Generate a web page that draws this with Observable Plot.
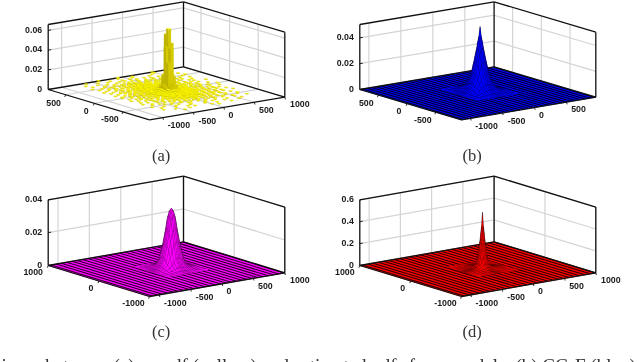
<!DOCTYPE html>
<html><head><meta charset="utf-8">
<script src="https://cdn.jsdelivr.net/npm/d3@7"></script>
<script src="https://cdn.jsdelivr.net/npm/@observablehq/plot@0.6"></script>
<style>html,body{margin:0;padding:0;background:#fff;overflow:hidden}svg{display:block;filter:blur(.35px)}</style>
</head><body>
<script>
// ---- data (z values in units of 0.001) ----
const peakNodesA = [0,20,40,70,100,140,190,250];
const surfaceB = [
 [50,42,34,24,15,7,3.5,1.5],
 [42,38,32,23,14.5,7,3.5,1.5],
 [34,32,28,21,13,6.5,3.3,1.4],
 [24,23,21,15,10,5.5,3,1.3],
 [15,14.5,13,10,7,4.5,2.5,1],
 [7,7,6.5,5.5,4.5,3.2,1.8,.7],
 [3.5,3.5,3.3,3,2.5,1.8,1,.4],
 [1.5,1.5,1.4,1.3,1,.7,.4,.2]];
const surfaceC = [
 [36.6,35.5,32.6,25,17,7.5,2.4,.8],
 [35.5,34.5,31.7,24,16.3,7.5,2.4,.8],
 [32.6,31.7,28.8,21.8,14.8,7,2.2,.8],
 [25,24,21.8,17,11.5,5.3,2,.7],
 [17,16.3,14.8,11.5,7.5,3.6,1.5,.6],
 [7.5,7.5,7,5.3,3.6,2,1,.4],
 [2.4,2.4,2.2,2,1.5,1,.6,.2],
 [.8,.8,.8,.7,.6,.4,.2,.1]];
const peakNodesD = [0,15,30,50,80,120,170,230];
const surfaceD = [
 [510,380,270,130,50,20,7,2],
 [380,320,240,120,48,20,7,2],
 [270,240,190,105,44,18,6,2],
 [130,120,105,75,35,15,6,2],
 [50,48,44,35,22,11,5,1.5],
 [20,20,18,15,11,7,3.5,1],
 [7,7,6,6,5,3.5,2,.8],
 [2,2,2,2,1.5,1,.8,.3]];
// histogram centre: rows j = 5..-5, columns i = -5..5 (bins of 40)
const histCentre = [
 [.3,.5,.4,.8,.6,.9,.7,.5,.6,.3,.4],
 [.5,.8,1,1.2,1.4,1.6,1.2,1,.8,.6,.3],
 [.6,1,1.6,2,2.6,3,2.4,1.8,1.2,.8,.5],
 [.8,1.2,2,3.5,5,7,5.5,3,2,1.2,.6],
 [.7,1.4,2.6,5,16,57,42,6,3,1.5,.7],
 [.9,1.6,3,7,45,63,48,9,3.5,1.8,.9],
 [.8,1.3,2.5,5,30,44,15,6,3,1.4,.8],
 [.6,1,2,3.5,6,8,6,3.5,2,1.1,.6],
 [.5,.9,1.4,2,2.8,3,2.6,2,1.5,.9,.5],
 [.4,.7,1,1.2,1.5,1.6,1.3,1.1,.9,.6,.4],
 [.3,.5,.7,.6,.8,1,.7,.6,.5,.4,.3]];
// histogram outskirts: rows j = 20..-20, columns i = -20..20; digit = height x 0.0005
const histCloud = [
 "..........1.......1.............1........",
 "....1............1.....1........1....1...",
 "........1....1........1.......1..........",
 "..1........1.....1..1.......1.......1....",
 "......1........1.1....1..1.......1.......",
 "...1.....1...1.....1.1.....1..1.......1..",
 ".......1...1...1.1...1..1..1.......1.....",
 ".1....1...1..1..1.1.1..1.1...1..1......1.",
 "....1...1..1.1.11.1.1.11..1.1....1...1...",
 "..1...1.1...1.1.1111.1.1.11.1.1....1.....",
 ".....1..1.1.1.11.111111.1.11..1..1....1..",
 "...1...1..1.11.1211121.11.1.1.1...1......",
 ".1....1.1..1.112112121111.11.1..1....1...",
 "....1...1.1.1112122122112.1.1.1....1.....",
 "..1...1..11.11212222212111.11.1.1...1....",
 ".....1.1.1.11211222222221211.1..1.1.....1",
 "...1..1.1.1.1212122222222121.11.1...1....",
 ".1.....1.11.11212222222221211.1.1.1......",
 "....1.1.1.11212122222222212111.1..1...1..",
 "..1..1.1.11.11212222222221211.1.1.1......",
 ".1...1.1.1.112112222222222121.11.1..1...1",
 "....1..1.11.12121222222221211.1.1...1....",
 "..1...1.1.11.1212222222221211.1.1.1....1.",
 "....1.1..1.1121122222222212111.1...1.....",
 ".1...1.1.1.11.1212222222121111.1.1.1.1...",
 "...1...1.1.1.121122222221211.1.1...1.....",
 ".....1.1..1.11.121222122111.11.1.1....1..",
 "..1....1.1.1.11211212212111.1.1..1.1.....",
 "....1..1..1.1.1.12112111211.1.11...1...1.",
 ".1.....1.1..1.11.1121211.11.1.1.1........",
 "....1....1.1.1.1.11.1111.1.1.1..1...1....",
 "...1..1.....1.1.1.1.11.1.1.1.1...1.......",
 ".......1..1...1.1..1.1.1..1..1..1....1...",
 ".1.......1...1...1..1...1.1...1.....1....",
 ".....1.....1...1...1..1...1..1...1.......",
 "...1.....1.....1.....1...1.......1....1..",
 "........1.....1.....1..1.....1...........",
 "..1.........1......1.......1......1......",
 "......1.......1........1........1........",
 "...........1........1.......1............",
 "........1.............1..................",
];
const xTicksFull = [-1000,-500,0,500,1000];
const xTicksShort = [-1000,-500,0,500];
const yTicksNear = [-500,0,500];
const yTicksWide = [-1000,0,1000];
const zTicksA = [0,.02,.04,.06];
const zTicksB = [0,.02,.04];
const zTicksC = [0,.02,.04];
const zTicksD = [0,.2,.4,.6];
const captionText = "Comparisons between (a) empdf (yellow) and estimated pdfs from models: (b) CG-F (blue),";

// ---- page layout of the four 3-D boxes ----
const panels = [
 {name:"(a)",labelAt:[160.7,155],F:[149,119.3],R:[284.3,96.7],L:[47.7,89],H:65,xd:[-1220,1000],yd:[-965,805],zm:.066,xt:xTicksFull,yt:yTicksNear,zt:zTicksA,color:"#ffff00"},
 {name:"(b)",labelAt:[471.7,155],F:[461,119.3],R:[595.3,96.7],L:[359.3,89],H:65,xd:[-1142,958],yd:[-948,822],zm:.0503,xt:xTicksShort,yt:yTicksNear,zt:zTicksB,color:"#0000ff",surf:surfaceB,nodes:peakNodesA,far:340,step:73},
 {name:"(c)",labelAt:[160.7,331],F:[149,296],R:[284.3,272.3],L:[47.7,265],H:65.7,xd:[-1156,1000],yd:[-1000,1000],zm:.04,xt:xTicksFull,yt:yTicksWide,zt:zTicksC,color:"#ff00ff",surf:surfaceC,nodes:peakNodesA,far:340,step:84},
 {name:"(d)",labelAt:[471.7,331],F:[461,296],R:[595.3,272.3],L:[359.3,265],H:65.7,xd:[-1150,1000],yd:[-1000,1000],zm:.6,xt:xTicksFull,yt:yTicksWide,zt:zTicksD,color:"#ff0000",surf:surfaceD,nodes:peakNodesD,far:320,step:84},
];
const xNudge = {"-1000":[16,8],"-500":[14,8.3],"0":[7,7.3],"500":[12,7.4],"1000":[15,7.4]};
const yNudge = {"-1000":[-16,6.3],"-500":[-13,7.7],"0":[-8,7.4],"500":[-12,8],"1000":[-15,6.7]};
const gridColor = "#d4d4d4", boxColor = "#111";

function projector(p){
  return (x,y,z=0)=>{
    const t=(x-p.xd[0])/(p.xd[1]-p.xd[0]), s=(y-p.yd[0])/(p.yd[1]-p.yd[0]);
    return [p.F[0]+t*(p.R[0]-p.F[0])+s*(p.L[0]-p.F[0]),
            p.F[1]+t*(p.R[1]-p.F[1])+s*(p.L[1]-p.F[1])-z/p.zm*p.H];
  };
}
let pid=0;
function poly(out,pts,fill,stroke){const id=pid++;for(const q of [...pts,pts[0]])out.push({x:q[0],y:q[1],id,fill,stroke});}
function seg(out,a,b){out.push({x1:a[0],y1:a[1],x2:b[0],y2:b[1]});}

const marks=[];
for(const p of panels){
  const P=projector(p),[x0,x1]=p.xd,[y0,y1]=p.yd,zm=p.zm;
  // walls and floor grid
  const grid=[];
  for(const t of p.xt){seg(grid,P(t,y1,0),P(t,y1,zm));seg(grid,P(t,y0,0),P(t,y1,0));}
  for(const t of p.yt){seg(grid,P(x1,t,0),P(x1,t,zm));seg(grid,P(x0,t,0),P(x1,t,0));}
  for(const t of p.zt.slice(1)){seg(grid,P(x0,y1,t),P(x1,y1,t));seg(grid,P(x1,y1,t),P(x1,y0,t));}
  marks.push(Plot.link(grid,{x1:"x1",y1:"y1",x2:"x2",y2:"y2",stroke:gridColor,strokeWidth:1.2}));
  // floor surface with its mesh stripes
  if(p.surf){
    const fl=[];poly(fl,[P(x0,y0),P(x1,y0),P(x1,y1),P(x0,y1)],p.color,p.color);
    marks.push(Plot.line(fl,{x:"x",y:"y",z:"id",fill:"fill",stroke:"stroke",strokeWidth:.5}));
    const st=[];
    for(const x of d3.range(x0+p.step/2,x1,p.step)) seg(st,P(x,y0),P(x,y1));
    marks.push(Plot.link(st,{x1:"x1",y1:"y1",x2:"x2",y2:"y2",stroke:"#000",strokeWidth:1.05,strokeOpacity:.85}));
  }
  // box
  const box=[];
  const c=[[x0,y1],[x1,y1],[x1,y0]];
  seg(box,P(x0,y1,zm),P(x1,y1,zm));seg(box,P(x1,y1,zm),P(x1,y0,zm));
  for(const q of c)seg(box,P(q[0],q[1],0),P(q[0],q[1],zm));
  seg(box,P(x0,y1),P(x1,y1));seg(box,P(x1,y1),P(x1,y0));seg(box,P(x0,y1),P(x0,y0));seg(box,P(x0,y0),P(x1,y0));
  marks.push(Plot.link(box,{x1:"x1",y1:"y1",x2:"x2",y2:"y2",stroke:boxColor,strokeWidth:1.3}));
  // ticks
  const tk=[];
  for(const t of p.xt){const a=P(t,y0);seg(tk,a,[a[0]+.6,a[1]+2.2]);}
  for(const t of p.yt){const a=P(x0,t);seg(tk,a,[a[0]-.9,a[1]+2.2]);}
  for(const t of p.zt){const a=P(x0,y1,t);seg(tk,a,[a[0]+3,a[1]-.5]);}
  marks.push(Plot.link(tk,{x1:"x1",y1:"y1",x2:"x2",y2:"y2",stroke:boxColor,strokeWidth:.9}));
  // data
  if(p.surf){
    const n=p.nodes,m=[...n.slice(1).reverse().map(v=>-v),...n];
    const off=[-p.far,...m,p.far];
    const val=(a,b)=>{const ia=n.indexOf(Math.abs(a)),ib=n.indexOf(Math.abs(b));return ia<0||ib<0?0:p.surf[ia][ib]/1000;};
    const cells=[];
    for(let i=0;i<off.length-1;i++)for(let j=0;j<off.length-1;j++)cells.push([i,j]);
    cells.sort((a,b)=>(b[0]+b[1])-(a[0]+a[1]));
    const sf=[];
    for(const [i,j] of cells){
      const A=off[i],B=off[i+1],C=off[j],D=off[j+1];
      poly(sf,[P(A,C,val(A,C)),P(B,C,val(B,C)),P(B,D,val(B,D)),P(A,D,val(A,D))],p.color,"#000");
    }
    marks.push(Plot.line(sf,{x:"x",y:"y",z:"id",fill:"fill",stroke:"stroke",strokeWidth:.3,strokeOpacity:.5}));
  } else {
    const bars=[];
    histCloud.forEach((row,r)=>{const j=20-r;[...row].forEach((ch,k)=>{const i=k-20;
      if(Math.abs(i)<=5&&Math.abs(j)<=5)return;
      if(ch!==".")bars.push([i,j,+ch*.0005,ch==="1"?15:19]);});});
    histCentre.forEach((row,r)=>row.forEach((v,k)=>bars.push([k-5,5-r,v/1000,20])));
    bars.sort((a,b)=>(b[0]+b[1])-(a[0]+a[1]));
    const bf=[];
    for(const [i,j,h,w] of bars){
      const X=i*40,Y=j*40,tall=h>.004;
      poly(bf,[P(X-w,Y-w,0),P(X-w,Y+w,0),P(X-w,Y+w,h),P(X-w,Y-w,h)],"#bdb300","#bdb300");
      poly(bf,[P(X-w,Y-w,0),P(X+w,Y-w,0),P(X+w,Y-w,h),P(X-w,Y-w,h)],"#d6cb00","#d6cb00");
      poly(bf,[P(X-w,Y-w,h),P(X+w,Y-w,h),P(X+w,Y+w,h),P(X-w,Y+w,h)],tall&&h<.06?"#d6cb00":"#ffff00",tall&&h<.06?"#d6cb00":"#f6f000");
    }
    marks.push(Plot.line(bf,{x:"x",y:"y",z:"id",fill:"fill",stroke:"stroke",strokeWidth:.25}));
  }
  // tick labels
  const lab=[];
  for(const t of p.xt){const a=P(t,y0),n=xNudge[t];lab.push({x:a[0]+n[0],y:a[1]+n[1],t:String(t)});}
  for(const t of p.yt){const a=P(x0,t),n=yNudge[t];lab.push({x:a[0]+n[0],y:a[1]+n[1],t:String(t)});}
  marks.push(Plot.text(lab,{x:"x",y:"y",text:"t",fontSize:8.8,fontWeight:700,fontFamily:"Liberation Sans",fill:"#1a1a1a"}));
  const zl=p.zt.map(t=>{const a=P(x0,y1,t);return {x:a[0]-6,y:a[1]-.5,t:String(t)};});
  marks.push(Plot.text(zl,{x:"x",y:"y",text:"t",textAnchor:"end",fontSize:8.8,fontWeight:700,fontFamily:"Liberation Sans",fill:"#1a1a1a"}));
  marks.push(Plot.text([p.name],{x:()=>p.labelAt[0],y:()=>p.labelAt[1],text:d=>d,fontSize:16.5,fontFamily:"Liberation Serif",fill:"#333"}));
}
marks.push(Plot.text([captionText],{x:()=>640,y:()=>365,text:d=>d,textAnchor:"end",fontSize:19,fontFamily:"Liberation Serif",fill:"#333"}));

const chart=Plot.plot({width:640,height:362,margin:0,
  x:{domain:[0,640],range:[0,640],axis:null},
  y:{domain:[0,362],range:[0,362],axis:null},
  color:{type:"identity"},
  style:{background:"#fff",overflow:"hidden"},
  marks});
document.body.appendChild(chart);
</script>
</body></html>
